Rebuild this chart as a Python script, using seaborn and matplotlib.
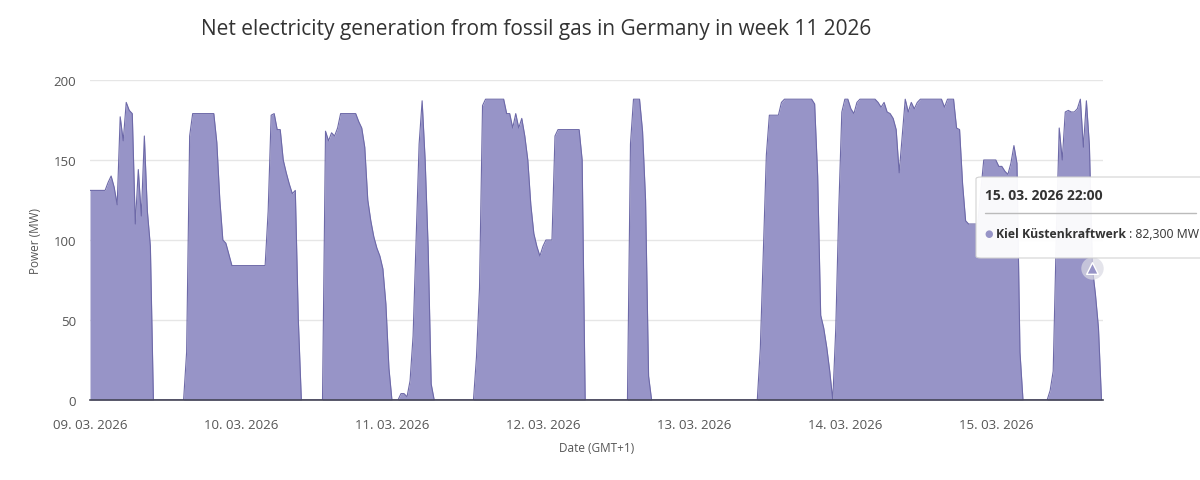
import numpy as np
import pandas as pd
import seaborn as sns
import matplotlib.pyplot as plt
from matplotlib.patches import FancyBboxPatch

# ------------------ data: half-hourly net generation (MW), week 11 2026 ------------------#
day1 = [131, 131, 131, 131, 131, 131, 136, 140, 133, 122, 177, 162,
        186, 181, 179, 110, 144, 115, 165, 118, 96, 0, 0, 0,
        0, 0, 0, 0, 0, 0, 0, 0, 30, 165, 179, 179,
        179, 179, 179, 179, 179, 179, 161, 125, 100, 98, 91, 84]
day2 = [84, 84, 84, 84, 84, 84, 84, 84, 84, 84, 84, 118,
        178, 179, 169, 169, 150, 142, 135, 129, 131, 50, 0, 0,
        0, 0, 0, 0, 0, 0, 168, 162, 167, 165, 170, 179,
        179, 179, 179, 179, 179, 174, 170, 158, 125, 112, 102, 95]
day3 = [90, 82, 60, 20, 0, 0, 0, 4, 4, 2, 12, 40,
        100, 160, 187, 150, 95, 10, 0, 0, 0, 0, 0, 0,
        0, 0, 0, 0, 0, 0, 0, 0, 27, 70, 184, 188,
        188, 188, 188, 188, 188, 188, 179, 179, 170, 179, 170, 176]
day4 = [165, 150, 122, 104, 96, 90, 96, 100, 100, 100, 165, 169,
        169, 169, 169, 169, 169, 169, 169, 150, 0, 0, 0, 0,
        0, 0, 0, 0, 0, 0, 0, 0, 0, 0, 0, 160,
        188, 188, 188, 168, 125, 15, 0, 0, 0, 0, 0, 0]
day5 = [0, 0, 0, 0, 0, 0, 0, 0, 0, 0, 0, 0,
        0, 0, 0, 0, 0, 0, 0, 0, 0, 0, 0, 0,
        0, 0, 0, 0, 0, 0, 32, 92, 153, 178, 178, 178,
        178, 186, 188, 188, 188, 188, 188, 188, 188, 188, 188, 188]
day6 = [185, 140, 53, 45, 33, 18, 0, 45, 120, 180, 188, 188,
        182, 179, 186, 188, 188, 188, 188, 188, 188, 186, 183, 186,
        180, 179, 176, 169, 142, 165, 188, 180, 186, 182, 186, 188,
        188, 188, 188, 188, 188, 188, 188, 183, 188, 188, 188, 170]
day7 = [169, 135, 112, 110, 110, 110, 110, 130, 150, 150, 150, 150,
        150, 146, 146, 143, 141, 148, 159, 148, 30, 0, 0, 0,
        0, 0, 0, 0, 0, 0, 6, 18, 100, 170, 150, 180,
        181, 180, 180, 182, 188, 158, 187, 159, 82.3, 66, 45, 0]

tick_labels = ['09. 03. 2026', '10. 03. 2026', '11. 03. 2026', '12. 03. 2026',
               '13. 03. 2026', '14. 03. 2026', '15. 03. 2026']
tooltip_time = '15. 03. 2026 22:00'
tooltip_name = 'Kiel Küstenkraftwerk'
tooltip_value = ' : 82,300 MW'
tooltip_idx = 332

power = day1 + day2 + day3 + day4 + day5 + day6 + day7
df = pd.DataFrame({'hours': np.arange(len(power)) * 0.5, 'power': power})

#------------------------------ plot ------------------------------#
sns.set_theme(style='white')
plt.rcParams['font.family'] = ['Open Sans', 'DejaVu Sans']

fill_col = '#9794c7'
line_col = '#6d69a8'

fig = plt.figure(figsize=(12, 4.81), dpi=100)
ax = fig.add_axes([90 / 1200, 1 - 401 / 481, 1013 / 1200, 320 / 481])

ax.fill_between(df['hours'], 0, df['power'], color=fill_col, lw=0, zorder=2)
sns.lineplot(x='hours', y='power', data=df, color=line_col, lw=0.8, ax=ax, zorder=3)

ax.set_xlim(0, 167.75)
ax.set_ylim(0, 200)
ax.set_yticks([0, 50, 100, 150, 200])
ax.set_xticks([0, 25, 50, 75, 100, 125, 150])
ax.set_xticklabels(tick_labels)
ax.tick_params(axis='both', length=0, labelsize=9.5, colors='#555555')
ax.tick_params(axis='x', pad=13)
ax.tick_params(axis='y', pad=10)
ax.grid(axis='y', color='#e6e6e6', lw=1, zorder=0)
for s in ['top', 'right', 'left']:
    ax.spines[s].set_visible(False)
ax.spines['bottom'].set_color('#444455')
ax.spines['bottom'].set_linewidth(1.2)
ax.spines['bottom'].set_zorder(4)

ax.set_xlabel('Date (GMT+1)', fontsize=8.5, color='#555555', labelpad=7)
ax.set_ylabel('Power (MW)', fontsize=8.5, color='#555555', labelpad=8)

fig.text(536 / 1200, 1 - 30 / 481, 'Net electricity generation from fossil gas in Germany in week 11 2026',
         ha='center', va='center', fontsize=15, color='#333333')

# hovered point marker
px, py = df['hours'][tooltip_idx], df['power'][tooltip_idx]
ax.scatter([px], [py], s=260, color='#d9d9e3', alpha=0.7, zorder=5, clip_on=False, lw=0)
ax.scatter([px], [py], s=70, marker='^', color=fill_col, edgecolor='white', lw=1, zorder=6, clip_on=False)

# tooltip box
box = FancyBboxPatch((976 / 1200, 1 - 259 / 481), 240 / 1200, 81 / 481,
                     boxstyle='round,pad=0,rounding_size=0.004', transform=fig.transFigure,
                     facecolor='white', edgecolor='#d0d0d0', lw=0.8, alpha=0.95, zorder=10)
fig.patches.append(box)
fig.lines.append(plt.Line2D([985 / 1200, 1196 / 1200], [1 - 214 / 481, 1 - 214 / 481],
                            transform=fig.transFigure, color='#bbbbbb', lw=1, zorder=11))
fig.text(985 / 1200, 1 - 196 / 481, tooltip_time, fontsize=10, fontweight='bold',
         color='#333333', va='center', zorder=12)
fig.text(984 / 1200, 1 - 235 / 481, '●', fontsize=7, color=fill_col, va='center', zorder=12)
t = fig.text(996 / 1200, 1 - 235 / 481, tooltip_name, fontsize=8.8, fontweight='bold',
             color='#333333', va='center', zorder=12)
fig.canvas.draw()
bb = t.get_window_extent()
fig.text(bb.x1 / 1200, 1 - 235 / 481, tooltip_value, fontsize=8.8, color='#333333',
         va='center', zorder=12)

fig.savefig('out.png', dpi=100)
